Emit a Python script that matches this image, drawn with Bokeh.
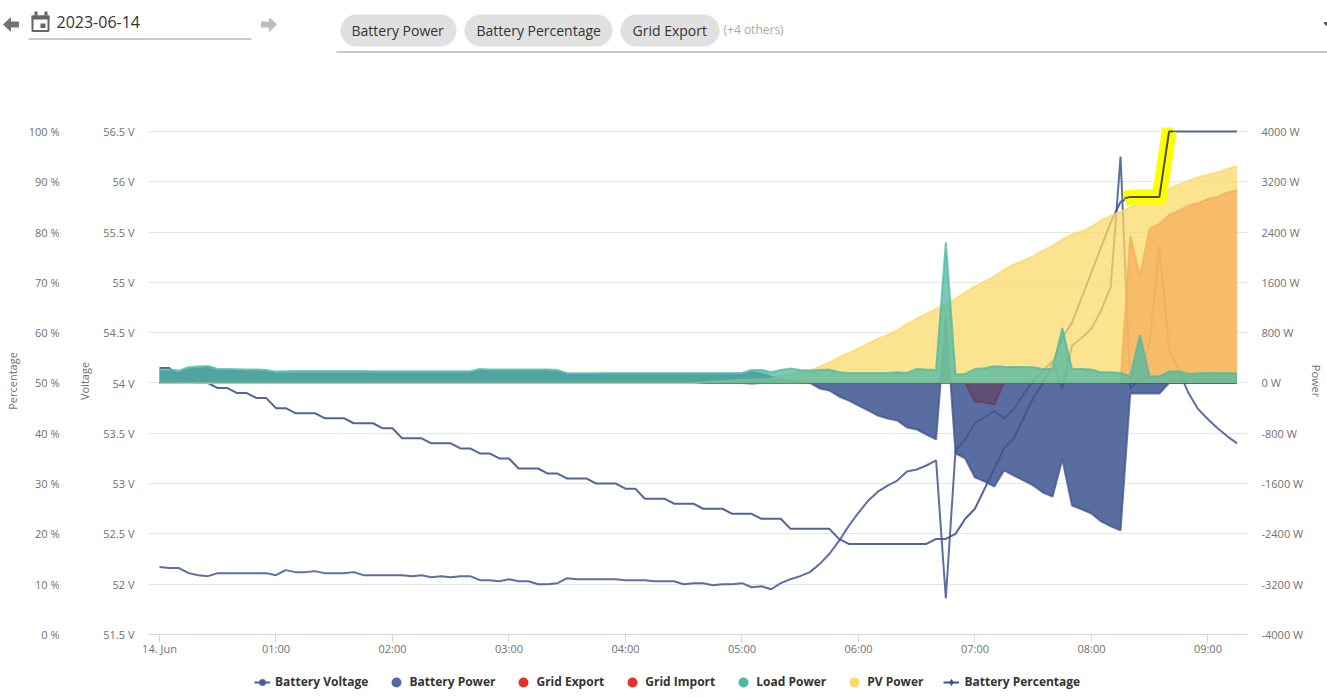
from bokeh.plotting import figure
from bokeh.models import (ColumnDataSource, Range1d, LinearAxis, FixedTicker, Legend, LegendItem, BoxAnnotation)
from bokeh.core.properties import value
from bokeh.embed import file_html
from bokeh.resources import INLINE

FONT = "Open Sans"
DATE_LABEL = "2023-06-14"
CHIPS = ["Battery Power", "Battery Percentage", "Grid Export"]
OTHERS = "(+4 others)"

MINUTES = list(range(0, 560, 5))

BATTERY_PCT = [53, 53, 51, 51, 50, 50, 49, 49, 48, 48, 47, 47, 45, 45, 44, 44, 44, 43, 43, 43,
               42, 42, 42, 41, 41, 39, 39, 39, 38, 38, 38, 37, 37, 36, 36, 35, 35, 33, 33, 33,
               32, 32, 31, 31, 31, 30, 30, 30, 29, 29, 27, 27, 27, 26, 26, 26, 25, 25, 25, 24,
               24, 24, 23, 23, 23, 21, 21, 21, 21, 21, 19, 18, 18, 18, 18, 18, 18, 18, 18, 18,
               19, 19, 20, 23, 25, 29, 33, 37, 39, 43, 47, 50, 54, 59, 62, 67, 72, 77, 82, 86,
               87, 87, 87, 87, 100, 100, 100, 100, 100, 100, 100, 100]

BATTERY_VOLT = [52.17, 52.16, 52.16, 52.11, 52.09, 52.08, 52.11, 52.11, 52.11, 52.11, 52.11, 52.11,
                52.09, 52.14, 52.12, 52.12, 52.13, 52.11, 52.11, 52.11, 52.12, 52.09, 52.09, 52.09,
                52.09, 52.09, 52.08, 52.09, 52.07, 52.08, 52.07, 52.08, 52.08, 52.04, 52.04, 52.03,
                52.05, 52.03, 52.03, 52.00, 52.00, 52.01, 52.06, 52.05, 52.05, 52.05, 52.05, 52.05,
                52.04, 52.04, 52.04, 52.03, 52.03, 52.03, 52.00, 52.01, 52.01, 51.99, 52.00, 52.00,
                52.01, 51.97, 51.98, 51.95, 52.01, 52.05, 52.08, 52.12, 52.20, 52.30, 52.43, 52.58,
                52.71, 52.83, 52.92, 52.98, 53.03, 53.12, 53.14, 53.18, 53.23, 51.86, 53.33, 53.44,
                53.60, 53.66, 53.72, 53.65, 53.74, 53.89, 54.02, 54.12, 54.22, 53.94, 54.37, 54.45,
                54.54, 54.72, 54.96, 56.25, 53.94, 54.05, 54.40, 55.36, 54.34, 54.12, 53.90, 53.74,
                53.64, 53.55, 53.47, 53.40]

BATTERY_POWER = [185, 185, 165, 220, 230, 240, 195, 195, 190, 185, 185, 178, 150, 155, 155, 155, 155, 155,
                 155, 155, 155, 155, 155, 155, 155, 155, 155, 155, 155, 155, 155, 155, 155, 195, 185, 185,
                 185, 185, 185, 185, 185, 175, 130, 130, 130, 130, 130, 130, 130, 130, 130, 130, 130, 130,
                 130, 130, 130, 130, 130, 130, 130, 170, 150, 100, 60, 30, 15, 0, -87, -119, -214, -278,
                 -358, -437, -517, -565, -597, -707, -739, -819, -898, 1072, -1120, -1200, -1502, -1566,
                 -1646, -1391, -1471, -1550, -1630, -1741, -1805, -1216, -1948, -2011, -2075, -2202, -2281,
                 -2345, -167, -167, -167, -167, 0, 0, 0, 0, 0, 0, 0, 0]

GRID_EXPORT = [0] * 100 + [2334, 1708, 2450, 2530, 2673, 2741, 2820, 2864, 2927, 2964, 3032, 3065]

GRID_IMPORT = ([0] * 61 + [-20] + [0] * 22 + [-294, -310, -340] + [0] * 25)

LOAD_POWER = [213, 213, 197, 250, 261, 271, 224, 224, 220, 215, 215, 208, 181, 186, 190, 192, 192, 192,
              192, 190, 190, 190, 188, 188, 188, 186, 186, 186, 186, 186, 186, 186, 186, 224, 213, 213,
              213, 213, 213, 213, 213, 205, 155, 155, 155, 157, 160, 160, 160, 160, 160, 160, 160, 160,
              160, 160, 160, 160, 160, 160, 160, 208, 208, 170, 208, 229, 208, 197, 205, 213, 170, 160,
              160, 160, 160, 160, 170, 160, 224, 213, 208, 2237, 134, 145, 224, 234, 266, 260, 255, 255,
              250, 224, 224, 876, 224, 224, 213, 170, 170, 160, 107, 765, 102, 107, 180, 186, 145, 155,
              160, 158, 155, 155]

PV_POWER = [0] * 56 + [10, 20, 30, 40, 50, 55, 55, 70, 105, 155, 186, 197, 261, 329, 409, 479,
            552, 631, 701, 765, 833, 940, 1019, 1098, 1178, 1258, 1337, 1442, 1537, 1612, 1697, 1798,
            1883, 1946, 2016, 2105, 2185, 2280, 2360, 2413, 2487, 2582, 2661, 2725, 2794, 2873, 2943,
            2996, 3086, 3155, 3218, 3271, 3313, 3351, 3404, 3446]

HIGHLIGHT_MIN = [497, 500, 505, 510, 515, 520, 522]
HIGHLIGHT_PCT = [86.7, 87, 87, 87, 87, 100, 100]

X_TICKS = [0, 60, 120, 180, 240, 300, 360, 420, 480, 540]
X_LABELS = ["14. Jun", "01:00", "02:00", "03:00", "04:00", "05:00", "06:00", "07:00", "08:00", "09:00"]
PCT_TICKS = [0, 10, 20, 30, 40, 50, 60, 70, 80, 90, 100]
PCT_LABELS = ["0 %", "10 %", "20 %", "30 %", "40 %", "50 %", "60 %", "70 %", "80 %", "90 %", "100 %"]
VOLT_TICKS = [51.5, 52, 52.5, 53, 53.5, 54, 54.5, 55, 55.5, 56, 56.5]
VOLT_LABELS = ["51.5 V", "52 V", "52.5 V", "53 V", "53.5 V", "54 V", "54.5 V", "55 V", "55.5 V", "56 V", "56.5 V"]
POWER_TICKS = [-4000, -3200, -2400, -1600, -800, 0, 800, 1600, 2400, 3200, 4000]
POWER_LABELS = ["-4000 W", "-3200 W", "-2400 W", "-1600 W", "-800 W", "0 W", "800 W", "1600 W", "2400 W", "3200 W", "4000 W"]

BATT_FILL = "#3d5490"
RED = "#e5302a"
IMPORT_DARK = "#7a0a14"
TEAL = "#4db8a4"
YELLOW = "#f9da6a"
LINE_BLUE = "#4a5f98"
PCT_BLUE = "#3f5390"

# ---------- header strip (page pixel coordinates) ----------
h = figure(width=1327, height=60, x_range=Range1d(0, 1327), y_range=Range1d(60, 0),
           toolbar_location=None, output_backend="svg", min_border=0,
           x_axis_location=None, y_axis_location=None, outline_line_color=None)
h.grid.visible = False

h.patch([3, 10, 10, 18, 18, 10, 10], [24, 17.5, 21.5, 21.5, 26.5, 26.5, 30.5], color="#757575")
h.patch([276, 269, 269, 261, 261, 269, 269], [24, 17.5, 21.5, 21.5, 26.5, 26.5, 30.5], color="#bdbdbd")
# calendar icon
h.quad(left=[32], right=[48], top=[16], bottom=[30.5], fill_color=None, line_color="#666666", line_width=2)
h.quad(left=[31, 34, 44, 40], right=[49, 37, 47, 45], top=[15, 11, 11, 23], bottom=[19, 15, 15, 27.5],
       color="#666666", line_width=0)
h.text([56], [21], text=[DATE_LABEL], text_font=value(FONT), text_font_size="16px",
       text_color="#333333", text_baseline="middle")
h.segment([28, 336], [38.5, 51.5], [251, 1327], [38.5, 51.5], line_color="#949494", line_width=1)
chip_left = [340, 464, 620]
chip_right = [456, 612, 719]
for l, r in zip(chip_left, chip_right):
    h.add_layout(BoxAnnotation(left=l, right=r, top=14, bottom=46, fill_color="#e0e0e0", fill_alpha=1,
                               line_color=None, border_radius=16, level="underlay"))
h.text([351, 476, 632], [30, 30, 30], text=CHIPS, text_font=value(FONT), text_font_size="14px",
       text_color="#333333", text_baseline="middle")
h.text([723], [29], text=[OTHERS], text_font=value(FONT), text_font_size="12px",
       text_color="#a6a6a6", text_baseline="middle")
h.patch([1323.5, 1327, 1325.5], [22, 22, 25], color="#555555")

# ---------- chart ----------
src = ColumnDataSource(dict(t=MINUTES, pct=BATTERY_PCT, volt=BATTERY_VOLT, batt=BATTERY_POWER,
                            exp=GRID_EXPORT, imp=GRID_IMPORT, load=LOAD_POWER, pv=PV_POWER,
                            zero=[0] * len(MINUTES)))

# the frame reaches 4 px above the 100 % line so that the thick highlight is not clipped
p = figure(width=1327, height=600, x_range=Range1d(-5.67, 560.9), y_range=Range1d(-4000, 4063.6),
           toolbar_location=None, output_backend="svg", y_axis_location="right",
           min_border_left=148, min_border_right=79, min_border_top=67, min_border_bottom=26,
           outline_line_color=None)
p.extra_y_ranges = {"pct": Range1d(0, 100.795), "volt": Range1d(51.5, 56.5398)}


def style_axis(ax, ticks, labels, title=None):
    ax.ticker = FixedTicker(ticks=ticks)
    ax.major_label_overrides = dict(zip(ticks, labels))
    ax.major_label_text_font = FONT
    ax.major_label_text_font_size = "11px"
    ax.major_label_text_color = "#707070"
    ax.axis_line_color = None
    ax.major_tick_line_color = None
    ax.minor_tick_line_color = None
    ax.major_tick_in = 0
    ax.major_tick_out = 0
    ax.minor_tick_in = 0
    ax.minor_tick_out = 0
    if title:
        ax.axis_label = title
        ax.axis_label_text_font = FONT
        ax.axis_label_text_font_size = "11px"
        ax.axis_label_text_font_style = "normal"
        ax.axis_label_text_color = "#707070"


volt_axis = LinearAxis(y_range_name="volt")
style_axis(volt_axis, VOLT_TICKS, VOLT_LABELS, "Voltage")
volt_axis.major_label_standoff = 14
volt_axis.axis_label_standoff = 8
p.add_layout(volt_axis, "left")

pct_axis = LinearAxis(y_range_name="pct")
style_axis(pct_axis, PCT_TICKS, PCT_LABELS, "Percentage")
pct_axis.major_label_standoff = 15
pct_axis.axis_label_standoff = 6
p.add_layout(pct_axis, "left")

power_axis = p.right[0]
style_axis(power_axis, POWER_TICKS, POWER_LABELS, "Power")
power_axis.major_label_standoff = 13
power_axis.axis_label_standoff = 3

style_axis(p.xaxis[0], X_TICKS, X_LABELS)
p.xaxis[0].axis_line_color = "#ccd6eb"
p.xaxis[0].major_tick_line_color = "#ccd6eb"
p.xaxis[0].major_tick_out = 8
p.xaxis[0].major_label_standoff = -2

p.xgrid.visible = False
p.ygrid.ticker = FixedTicker(ticks=POWER_TICKS)
p.ygrid.grid_line_color = "#e6e6e6"

p.line("t", "volt", source=src, y_range_name="volt", line_color=LINE_BLUE, line_width=2, line_alpha=0.9)
p.line("t", "pct", source=src, y_range_name="pct", line_color=PCT_BLUE, line_width=2, line_alpha=0.9)


def area(col, fill, line, alpha, line_alpha=0.75):
    p.varea("t", y1=col, y2="zero", source=src, fill_color=fill, fill_alpha=alpha)
    p.line("t", col, source=src, line_color=line, line_width=2, line_alpha=line_alpha)


area("batt", BATT_FILL, BATT_FILL, 0.85)
area("imp", IMPORT_DARK, IMPORT_DARK, 0.3, 0.3)
area("exp", RED, RED, 0.75)
area("pv", YELLOW, YELLOW, 0.75)
area("load", TEAL, TEAL, 0.75)

hl = ColumnDataSource(dict(t=HIGHLIGHT_MIN, pct=HIGHLIGHT_PCT))
p.line("t", "pct", source=hl, y_range_name="pct", line_color="#ffff00", line_width=15, line_join="miter")
p.line("t", "pct", source=hl, y_range_name="pct", line_color="#4a5030", line_width=2)

# ---------- legend strip ----------
k = figure(width=1327, height=37, x_range=Range1d(0, 1), y_range=Range1d(0, 1),
           toolbar_location=None, output_backend="svg", min_border=0,
           x_axis_location=None, y_axis_location=None, outline_line_color=None)
k.grid.visible = False


def key_line(color):
    return k.line([5, 6], [5, 6], line_color=color, line_width=2)


def key(color, marker, width):
    return k.scatter([5], [5], marker=marker, fill_color=color, line_color=color, line_width=width)


items = [
    LegendItem(label="Battery Voltage", renderers=[key_line(LINE_BLUE), key(LINE_BLUE, "circle", 0.5)]),
    LegendItem(label="Battery Power", renderers=[key("#55689e", "circle", 3.6)]),
    LegendItem(label="Grid Export", renderers=[key(RED, "circle", 3.6)]),
    LegendItem(label="Grid Import", renderers=[key(RED, "circle", 3.6)]),
    LegendItem(label="Load Power", renderers=[key(TEAL, "circle", 3.6)]),
    LegendItem(label="PV Power", renderers=[key(YELLOW, "circle", 3.6)]),
    LegendItem(label="Battery Percentage", renderers=[key_line(PCT_BLUE), key(PCT_BLUE, "diamond", 0.5)]),
]
legend = Legend(items=items, orientation="horizontal", location=(254, 7), glyph_width=16, glyph_height=16,
                label_standoff=5, spacing=20, padding=0, margin=0, border_line_color=None,
                background_fill_color=None, label_text_font=FONT, label_text_font_size="12px",
                label_text_font_style="bold", label_text_color="#333333")
k.add_layout(legend, "center")

open("out.html", "w").write(file_html([h, p, k], INLINE))
